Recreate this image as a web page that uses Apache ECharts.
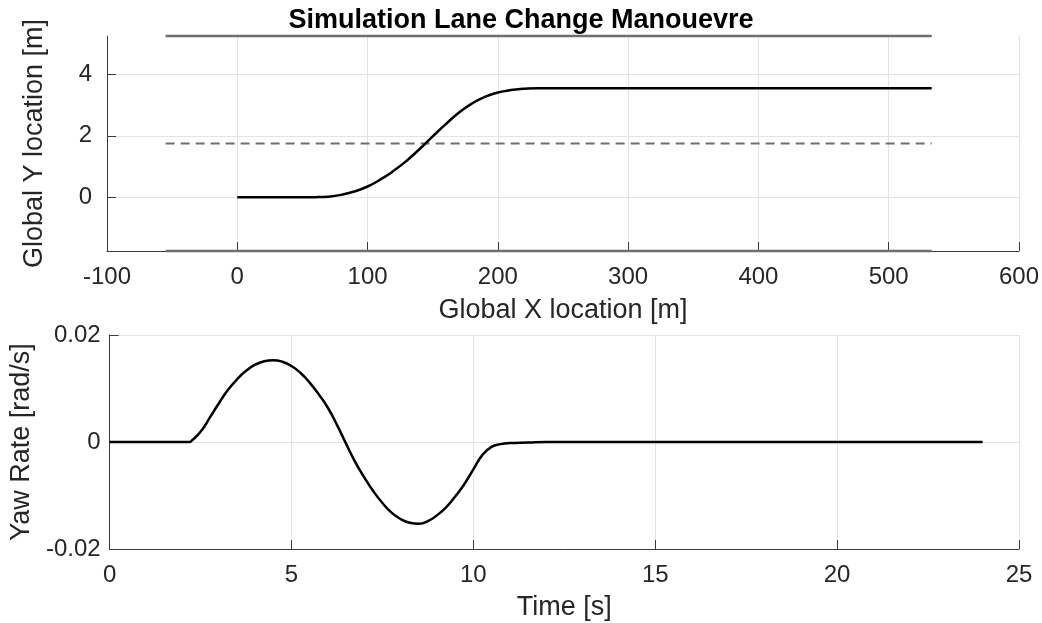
<!DOCTYPE html>
<html><head><meta charset="utf-8">
<script src="https://cdn.jsdelivr.net/npm/echarts@6/dist/echarts.min.js"></script>
<style>html,body{margin:0;padding:0;background:#fff}#c{width:1042px;height:623px}</style>
</head><body><div id="c"></div>
<script>
// Vehicle path (Global X [m], Global Y [m])
const pathX = [0, 20, 40, 50, 60, 70, 80, 90, 100, 110, 120, 130, 140, 150, 160, 170, 180, 190, 200, 210, 220, 230, 240, 300, 400, 500, 533];
const pathY = [0, 0, 0, 0, 0.003, 0.02, 0.08, 0.19, 0.35, 0.58, 0.86, 1.19, 1.57, 1.98, 2.38, 2.75, 3.05, 3.27, 3.41, 3.49, 3.53, 3.55, 3.55, 3.55, 3.55, 3.55, 3.55];
// Road markings
const roadX = [-55, 533];
const laneOuterTop = 5.25;
const laneCentre = 1.75;
const laneOuterBottom = -1.75;
const topYTicks = [0, 2, 4];
// Yaw rate vs time
const timeS = [0, 1, 2, 2.2, 2.25, 2.5, 2.75, 3.0, 3.25, 3.5, 3.75, 4.0, 4.25, 4.5, 4.75, 5.0, 5.25, 5.5, 5.75, 6.0, 6.25, 6.5, 6.75, 7.0, 7.25, 7.5, 7.75, 8.0, 8.25, 8.5, 8.75, 9.0, 9.25, 9.5, 9.75, 10.0, 10.25, 10.5, 10.75, 11.0, 11.5, 12, 15, 20, 24];
const yawRate = [0, 0, 0, 0, 0.0002, 0.0019, 0.0045, 0.0072, 0.0097, 0.0117, 0.0133, 0.01445, 0.0151, 0.0153, 0.015, 0.0142, 0.0129, 0.0111, 0.0089, 0.0064, 0.0032, -0.0003, -0.0037, -0.0066, -0.0092, -0.0114, -0.0132, -0.0144, -0.0151, -0.0153, -0.0148, -0.0137, -0.0122, -0.0102, -0.0079, -0.0051, -0.0024, -0.0009, -0.0004, -0.0002, -0.0001, 0, 0, 0, 0];

const FONT = 'Liberation Sans';
const TXT = '#262626';
const AX = '#3a3a3a';
const GRIDC = '#e3e3e3';

const zip = (a, b) => a.map((v, i) => [v, b[i]]);
const hline = (y) => roadX.map(x => [x, y]);

const axisCommon = {
  axisLine: { show: true, onZero: false, lineStyle: { color: AX, width: 1 } },
  axisTick: { show: true, inside: true, length: 9, lineStyle: { color: AX, width: 1 } },
  splitLine: { show: true, lineStyle: { color: GRIDC, width: 1 } },
  axisLabel: { color: TXT, fontFamily: FONT, fontSize: 24 },
  nameTextStyle: { color: TXT, fontFamily: FONT, fontSize: 27 },
  nameLocation: 'middle'
};

const option = {
  animation: false,
  backgroundColor: '#fff',
  title: {
    text: 'Simulation Lane Change Manouevre',
    left: 'center', top: 7,
    padding: [0, 0, 0, 84],
    textStyle: { color: '#000', fontFamily: FONT, fontSize: 27, fontWeight: 'bold' }
  },
  grid: [
    { left: 107, right: 23, top: 36, height: 215 },
    { left: 107, right: 23, top: 335, height: 214 }
  ],
  xAxis: [
    Object.assign({}, axisCommon, {
      gridIndex: 0, type: 'value', min: -100, max: 600, interval: 100,
      name: 'Global X location [m]', nameGap: 46,
      axisLabel: Object.assign({}, axisCommon.axisLabel, { margin: 14 })
    }),
    Object.assign({}, axisCommon, {
      gridIndex: 1, type: 'value', min: 0, max: 25, interval: 5,
      name: 'Time [s]', nameGap: 45,
      axisLabel: Object.assign({}, axisCommon.axisLabel, { margin: 14 })
    })
  ],
  yAxis: [
    Object.assign({}, axisCommon, {
      gridIndex: 0, type: 'value', min: -1.75, max: 5.25,
      name: 'Global Y location [m]', nameGap: 59, nameRotate: 90,
      axisTick: Object.assign({}, axisCommon.axisTick, { customValues: topYTicks }),
      axisLabel: Object.assign({}, axisCommon.axisLabel, { margin: 15, customValues: topYTicks })
    }),
    Object.assign({}, axisCommon, {
      gridIndex: 1, type: 'value', min: -0.02, max: 0.02, interval: 0.02,
      name: 'Yaw Rate [rad/s]', nameGap: 71, nameRotate: 90,
      axisLabel: Object.assign({}, axisCommon.axisLabel, { margin: 9 })
    })
  ],
  series: [
    { type: 'line', xAxisIndex: 0, yAxisIndex: 0, data: hline(laneOuterTop), showSymbol: false, clip: false,
      lineStyle: { color: '#6e6e6e', width: 2.5 } },
    { type: 'line', xAxisIndex: 0, yAxisIndex: 0, data: hline(laneOuterBottom), showSymbol: false, clip: false,
      lineStyle: { color: '#6e6e6e', width: 2.5 } },
    { type: 'line', xAxisIndex: 0, yAxisIndex: 0, data: hline(laneCentre), showSymbol: false, clip: false,
      lineStyle: { color: '#6e6e6e', width: 2, type: [9, 6] } },
    { type: 'line', xAxisIndex: 0, yAxisIndex: 0, data: zip(pathX, pathY), showSymbol: false, smooth: 0.5,
      lineStyle: { color: '#000', width: 2.5 } },
    { type: 'line', xAxisIndex: 1, yAxisIndex: 1, data: zip(timeS, yawRate), showSymbol: false, smooth: 0.5,
      lineStyle: { color: '#000', width: 2.5 } }
  ]
};
const chart = echarts.init(document.getElementById('c'), null, { renderer: 'canvas' });
chart.setOption(option);
</script></body></html>
